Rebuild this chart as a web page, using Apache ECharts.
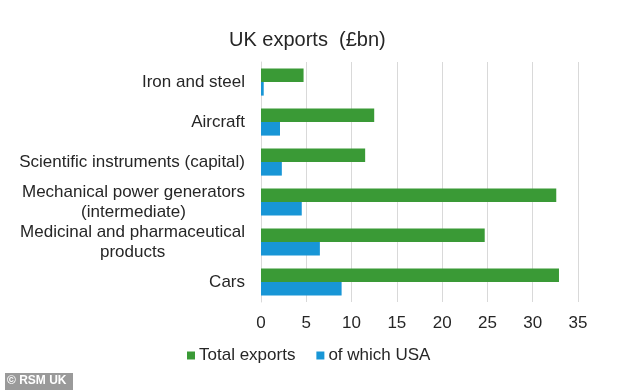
<!DOCTYPE html>
<html>
<head>
<meta charset="utf-8">
<script src="https://cdn.jsdelivr.net/npm/echarts@6/dist/echarts.min.js"></script>
<style>
  html, body { margin: 0; padding: 0; background: #fff; }
  #chart { width: 634px; height: 391px; }
</style>
</head>
<body>
<div id="chart"></div>
<script>
// ---- Data ----
var categories = [
  'Iron and steel',
  'Aircraft',
  'Scientific instruments (capital)',
  'Mechanical power generators\n(intermediate)',
  'Medicinal and pharmaceutical\nproducts',
  'Cars'
];
var totalExports = [4.7, 12.5, 11.5, 32.6, 24.7, 32.9];
var usaExports = [0.3, 2.1, 2.3, 4.5, 6.5, 8.9];
var seriesNames = ['Total exports', 'of which USA'];
var xTicks = [0, 5, 10, 15, 20, 25, 30, 35];

var FONT = '"Liberation Sans", Arial, sans-serif';
var TEXT = '#262626';

var chart = echarts.init(document.getElementById('chart'), null, { renderer: 'canvas' });

function catLabel(v) {
  var lines = v.split('\n');
  if (lines.length === 1) return '{a|' + lines[0] + '}';
  return '{a|' + lines[0] + '}\n{c|' + lines[1] + '}';
}

var option = {
  backgroundColor: '#ffffff',
  animation: false,
  title: {
    text: 'UK exports  (£bn)',
    left: 224,
    top: 25,
    textStyle: { fontFamily: FONT, fontSize: 20, fontWeight: 'normal', color: TEXT }
  },
  legend: {
    data: seriesNames,
    left: 182,
    top: 342,
    itemWidth: 8,
    itemHeight: 8,
    itemGap: 21,
    icon: 'rect',
    textStyle: { fontFamily: FONT, fontSize: 17, color: TEXT, padding: [0, 0, 0, -1] }
  },
  grid: {
    left: 261,
    right: 56,
    top: 62,
    bottom: 89,
    containLabel: false
  },
  xAxis: {
    type: 'value',
    min: xTicks[0],
    max: xTicks[xTicks.length - 1],
    interval: 5,
    axisLine: { show: false },
    axisTick: { show: false },
    splitLine: { show: true, lineStyle: { color: '#d9d9d9', width: 1 } },
    axisLabel: { fontFamily: FONT, fontSize: 17, color: TEXT, margin: 13 }
  },
  yAxis: {
    type: 'category',
    data: categories,
    inverse: true,
    axisLine: { show: true, lineStyle: { color: '#d9d9d9' } },
    axisTick: { show: false },
    axisLabel: {
      margin: 16,
      formatter: catLabel,
      lineHeight: 20,
      rich: {
        a: { fontFamily: FONT, fontSize: 17, color: TEXT, lineHeight: 20, align: 'right' },
        c: { fontFamily: FONT, fontSize: 17, color: TEXT, lineHeight: 20, align: 'center' }
      }
    }
  },
  series: [
    {
      name: seriesNames[0],
      type: 'bar',
      data: totalExports,
      barGap: '0%',
      barCategoryGap: '32%',
      itemStyle: { color: '#3a9a36' }
    },
    {
      name: seriesNames[1],
      type: 'bar',
      data: usaExports,
      barGap: '0%',
      barCategoryGap: '32%',
      itemStyle: { color: '#1896d6' }
    }
  ],
  graphic: [
    {
      type: 'rect',
      left: 5,
      top: 373,
      shape: { width: 68, height: 17 },
      style: { fill: '#9a9a9a' }
    },
    {
      type: 'text',
      left: 7,
      top: 375,
      style: { text: '© RSM UK', fill: '#ffffff', font: 'bold 12px ' + FONT }
    }
  ]
};

chart.setOption(option);
</script>
</body>
</html>
